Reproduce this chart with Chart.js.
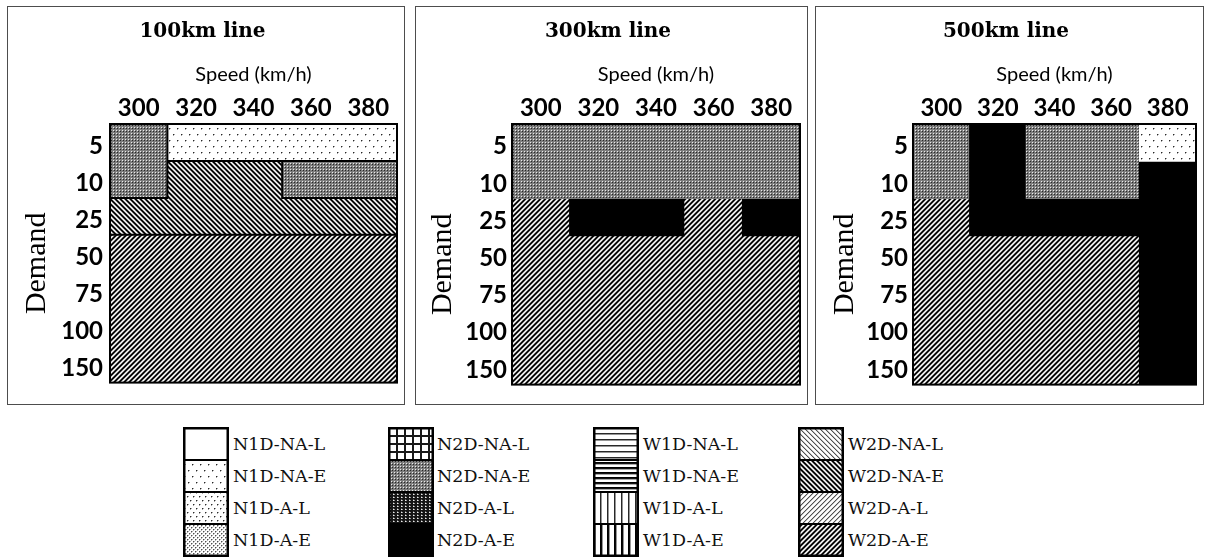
<!DOCTYPE html>
<html>
<head>
<meta charset="utf-8">
<title>Scheme by line length, speed and demand</title>
<script src="https://cdn.jsdelivr.net/npm/chart.js@4.4.1/dist/chart.umd.min.js"></script>
<style>
  html, body { margin: 0; padding: 0; background: #fff; }
  body { width: 1205px; height: 558px; position: relative; overflow: hidden; }
  .panel { position: absolute; border: 1px solid #4d4d4d; }
  .panel canvas { display: block; }
  .key { position: absolute; display: block; }
  .key-label {
    position: absolute; font-family: 'DejaVu Serif', serif; font-size: 17.5px; color: #111;
    white-space: nowrap; height: 32px; line-height: 32px;
  }
</style>
</head>
<body>
<div class="panel" style="left:7px;top:6px;"><canvas id="c100" width="396" height="397"></canvas></div>
<div class="panel" style="left:415px;top:6px;"><canvas id="c300" width="391" height="397"></canvas></div>
<div class="panel" style="left:815px;top:6px;"><canvas id="c500" width="387" height="397"></canvas></div>
<div id="legend"></div>
<script>
// ---- data ----
const speeds = ['300', '320', '340', '360', '380'];
const demands = ['5', '10', '25', '50', '75', '100', '150'];

const groupN1 = ['N1D-NA-L', 'N1D-NA-E', 'N1D-A-L', 'N1D-A-E'];
const groupN2 = ['N2D-NA-L', 'N2D-NA-E', 'N2D-A-L', 'N2D-A-E'];
const groupW1 = ['W1D-NA-L', 'W1D-NA-E', 'W1D-A-L', 'W1D-A-E'];
const groupW2 = ['W2D-NA-L', 'W2D-NA-E', 'W2D-A-L', 'W2D-A-E'];

// best scheme per demand row (top to bottom) and speed column (left to right)
const line100 = [
  ['N2D-NA-E', 'N1D-NA-E', 'N1D-NA-E', 'N1D-NA-E', 'N1D-NA-E'],
  ['N2D-NA-E', 'W2D-NA-E', 'W2D-NA-E', 'N2D-NA-E', 'N2D-NA-E'],
  ['W2D-NA-E', 'W2D-NA-E', 'W2D-NA-E', 'W2D-NA-E', 'W2D-NA-E'],
  ['W2D-A-E', 'W2D-A-E', 'W2D-A-E', 'W2D-A-E', 'W2D-A-E'],
  ['W2D-A-E', 'W2D-A-E', 'W2D-A-E', 'W2D-A-E', 'W2D-A-E'],
  ['W2D-A-E', 'W2D-A-E', 'W2D-A-E', 'W2D-A-E', 'W2D-A-E'],
  ['W2D-A-E', 'W2D-A-E', 'W2D-A-E', 'W2D-A-E', 'W2D-A-E']
];
const line300 = [
  ['N2D-NA-E', 'N2D-NA-E', 'N2D-NA-E', 'N2D-NA-E', 'N2D-NA-E'],
  ['N2D-NA-E', 'N2D-NA-E', 'N2D-NA-E', 'N2D-NA-E', 'N2D-NA-E'],
  ['W2D-A-E', 'N2D-A-E', 'N2D-A-E', 'W2D-A-E', 'N2D-A-E'],
  ['W2D-A-E', 'W2D-A-E', 'W2D-A-E', 'W2D-A-E', 'W2D-A-E'],
  ['W2D-A-E', 'W2D-A-E', 'W2D-A-E', 'W2D-A-E', 'W2D-A-E'],
  ['W2D-A-E', 'W2D-A-E', 'W2D-A-E', 'W2D-A-E', 'W2D-A-E'],
  ['W2D-A-E', 'W2D-A-E', 'W2D-A-E', 'W2D-A-E', 'W2D-A-E']
];
const line500 = [
  ['N2D-NA-E', 'N2D-A-E', 'N2D-NA-E', 'N2D-NA-E', 'N1D-NA-E'],
  ['N2D-NA-E', 'N2D-A-E', 'N2D-NA-E', 'N2D-NA-E', 'N2D-A-E'],
  ['W2D-A-E', 'N2D-A-E', 'N2D-A-E', 'N2D-A-E', 'N2D-A-E'],
  ['W2D-A-E', 'W2D-A-E', 'W2D-A-E', 'W2D-A-E', 'N2D-A-E'],
  ['W2D-A-E', 'W2D-A-E', 'W2D-A-E', 'W2D-A-E', 'N2D-A-E'],
  ['W2D-A-E', 'W2D-A-E', 'W2D-A-E', 'W2D-A-E', 'N2D-A-E'],
  ['W2D-A-E', 'W2D-A-E', 'W2D-A-E', 'W2D-A-E', 'N2D-A-E']
];

// ---- hatch fills ----
function makeTile(w, h, shade) {
  const c = document.createElement('canvas');
  c.width = w; c.height = h;
  const g = c.getContext('2d');
  const img = g.createImageData(w, h);
  for (let y = 0; y < h; y++) {
    for (let x = 0; x < w; x++) {
      const v = shade(x, y);
      const i = (y * w + x) * 4;
      img.data[i] = img.data[i + 1] = img.data[i + 2] = v;
      img.data[i + 3] = 255;
    }
  }
  g.putImageData(img, 0, 0);
  return c;
}
function dotShade(pts, core, halo) {
  return (x, y) => {
    for (const [px, py] of pts) if (x === px && y === py) return core;
    for (const [px, py] of pts) if ((x === px + 1 && y === py) || (x === px && y === py + 1)) return halo;
    return 255;
  };
}
function stripeShade(vals, dir) {
  const n = vals.length;
  return (x, y) => vals[(((dir > 0 ? x + y : x - y) % n) + n) % n];
}
const fillSpecs = {
  'N1D-NA-L': [1, 1, () => 255],
  'N1D-NA-E': [8, 12, dotShade([[1, 1], [5, 7]], 40, 165)],
  'N1D-A-L':  [6, 8, dotShade([[1, 1], [4, 5]], 45, 165)],
  'N1D-A-E':  [4, 4, dotShade([[0, 0], [2, 2]], 80, 175)],
  'N2D-NA-L': [8, 8, (x, y) => (x < 2 || y < 2) ? 25 : 255],
  'N2D-NA-E': [3, 3, (x, y) => [[235, 125, 125], [125, 40, 125], [125, 125, 125]][y][x]],
  'N2D-A-L':  [4, 3, (x, y) => (y === 1 && x === 1) ? 235 : (y === 1 && x === 2) ? 150 : (y === 0 && x === 1) ? 90 : 20],
  'N2D-A-E':  [1, 1, () => 0],
  'W1D-NA-L': [1, 6, (x, y) => [40, 150, 255, 255, 255, 255][y]],
  'W1D-NA-E': [1, 5, (x, y) => [0, 20, 170, 255, 255][y]],
  'W1D-A-L':  [7, 1, (x) => [40, 150, 255, 255, 255, 255, 255][x]],
  'W1D-A-E':  [7, 1, (x) => [0, 10, 150, 255, 255, 255, 255][x]],
  'W2D-NA-L': [5, 5, stripeShade([80, 190, 255, 255, 235], -1)],
  'W2D-NA-E': [5, 5, stripeShade([0, 20, 190, 255, 130], -1)],
  'W2D-A-L':  [5, 5, stripeShade([80, 190, 255, 255, 235], 1)],
  'W2D-A-E':  [5, 5, stripeShade([0, 20, 190, 255, 130], 1)]
};
const patternCtx = document.createElement('canvas').getContext('2d');
const fills = {};
for (const name of Object.keys(fillSpecs)) {
  const [w, h, shade] = fillSpecs[name];
  fills[name] = patternCtx.createPattern(makeTile(w, h, shade), 'repeat');
}

// ---- outline of the grid, borders between different schemes, and the demand caption ----
function outlinePlugin(grid, inner, caption) {
  return {
    id: 'regionOutline',
    afterDatasetsDraw(chart) {
      const { ctx, chartArea: a } = chart;
      const xs = chart.scales.x, ys = chart.scales.yv;
      const nc = grid[0].length, nr = grid.length;
      const colEdge = (c) => c <= 0 ? a.left : c >= nc ? a.right
        : (xs.getPixelForValue(c - 1) + xs.getPixelForValue(c)) / 2;
      ctx.save();
      ctx.strokeStyle = '#000';
      ctx.lineCap = 'square';
      if (inner) {
        ctx.lineWidth = 2;
        ctx.beginPath();
        for (let r = 0; r < nr; r++) {
          for (let c = 0; c < nc; c++) {
            if (c < nc - 1 && grid[r][c] !== grid[r][c + 1]) {
              const x = colEdge(c + 1);
              ctx.moveTo(x, ys.getPixelForValue(r));
              ctx.lineTo(x, ys.getPixelForValue(r + 1));
            }
            if (r < nr - 1 && grid[r][c] !== grid[r + 1][c]) {
              const y = ys.getPixelForValue(r + 1);
              ctx.moveTo(colEdge(c), y);
              ctx.lineTo(colEdge(c + 1), y);
            }
          }
        }
        ctx.stroke();
      }
      ctx.lineWidth = 2;
      ctx.strokeRect(a.left, a.top, a.width, a.height);
      ctx.restore();
    },
    afterDraw(chart) {
      const { ctx, chartArea: a } = chart;
      ctx.save();
      ctx.translate(caption.x, (a.top + a.bottom) / 2 + caption.shift);
      ctx.rotate(-Math.PI / 2);
      ctx.font = '30px "Liberation Serif"';
      ctx.fillStyle = '#000';
      ctx.textAlign = 'center';
      ctx.textBaseline = 'middle';
      ctx.fillText('Demand', 0, 0);
      ctx.restore();
    }
  };
}

function makePanel(id, heading, grid, box) {
  const tickFont = { family: 'Lato', weight: 'bold', size: 24 };
  return new Chart(document.getElementById(id), {
    type: 'bar',
    data: {
      labels: speeds,
      datasets: demands.map((d, r) => ({
        label: d,
        data: speeds.map(() => 1),
        yAxisID: 'yv',
        backgroundColor: (c) => fills[grid[c.datasetIndex][c.dataIndex]],
        borderWidth: 0,
        barPercentage: 1,
        categoryPercentage: 1,
        inflateAmount: 0.5
      }))
    },
    options: {
      responsive: false,
      animation: false,
      events: [],
      devicePixelRatio: 1,
      layout: { padding: { left: 0, top: 0, right: box.right, bottom: box.bottom } },
      plugins: {
        legend: { display: false },
        tooltip: { enabled: false },
        title: {
          display: true, text: heading, color: '#000',
          font: { family: 'DejaVu Serif', weight: 'bold', size: 20, lineHeight: 1.2 },
          padding: { top: 13, bottom: 0 }
        }
      },
      scales: {
        x: {
          type: 'category', position: 'top', offset: true, stacked: true,
          grid: { display: false, drawTicks: false }, border: { display: false },
          ticks: { font: tickFont, color: '#000', padding: 1, autoSkip: false, maxRotation: 0 },
          title: {
            display: true, text: 'Speed (km/h)', color: '#000',
            font: { family: 'Lato', size: 20, lineHeight: 1.2 }, padding: { top: 19, bottom: 0 }
          },
          afterFit: (s) => { s.height = 80; }
        },
        yv: { type: 'linear', stacked: true, reverse: true, min: 0, max: demands.length, display: false },
        y: {
          type: 'category', labels: demands, offset: true, position: 'left',
          grid: { display: false, drawTicks: false }, border: { display: false },
          ticks: { font: tickFont, color: '#000', padding: box.tickPad, autoSkip: false, labelOffset: 4 },
          title: { display: false },
          afterFit: (s) => { s.width = box.left; }
        }
      }
    },
    plugins: [outlinePlugin(grid, box.inner, { x: box.captionX, shift: 10 })]
  });
}

makePanel('c100', '100km line', line100, { left: 102, right: 7, bottom: 12, tickPad: 7, captionX: 29, inner: true });
makePanel('c300', '300km line', line300, { left: 96, right: 7, bottom: 12, tickPad: 5, captionX: 27, inner: false });
makePanel('c500', '500km line', line500, { left: 97, right: 7, bottom: 11, tickPad: 5, captionX: 29, inner: false });

// ---- key ----
const keyGroups = [groupN1, groupN2, groupW1, groupW2];
const keySpots = [[183, 233], [388, 437], [593, 643], [798, 848]];
const keyTop = 427, keyRow = 32, keyWidth = 46;
const legend = document.getElementById('legend');
keyGroups.forEach((group, gi) => {
  const [sx, tx] = keySpots[gi];
  const cv = document.createElement('canvas');
  cv.className = 'key';
  cv.width = keyWidth; cv.height = keyRow * group.length + 2;
  cv.style.left = sx + 'px'; cv.style.top = keyTop + 'px';
  legend.appendChild(cv);
  const g = cv.getContext('2d');
  group.forEach((name, i) => {
    g.fillStyle = fills[name];
    g.fillRect(1, 1 + i * keyRow, keyWidth - 2, keyRow);
  });
  g.strokeStyle = '#000';
  g.lineWidth = 2;
  for (let i = 1; i < group.length; i++) {
    g.beginPath();
    g.moveTo(0, 1 + i * keyRow); g.lineTo(keyWidth, 1 + i * keyRow);
    g.stroke();
  }
  g.lineWidth = 2.5;
  g.strokeRect(1.25, 1.25, keyWidth - 2.5, cv.height - 2.5);
  group.forEach((name, i) => {
    const lab = document.createElement('div');
    lab.className = 'key-label';
    lab.textContent = name;
    lab.style.left = tx + 'px';
    lab.style.top = (keyTop + 1 + i * keyRow) + 'px';
    legend.appendChild(lab);
  });
});
</script>
</body>
</html>
